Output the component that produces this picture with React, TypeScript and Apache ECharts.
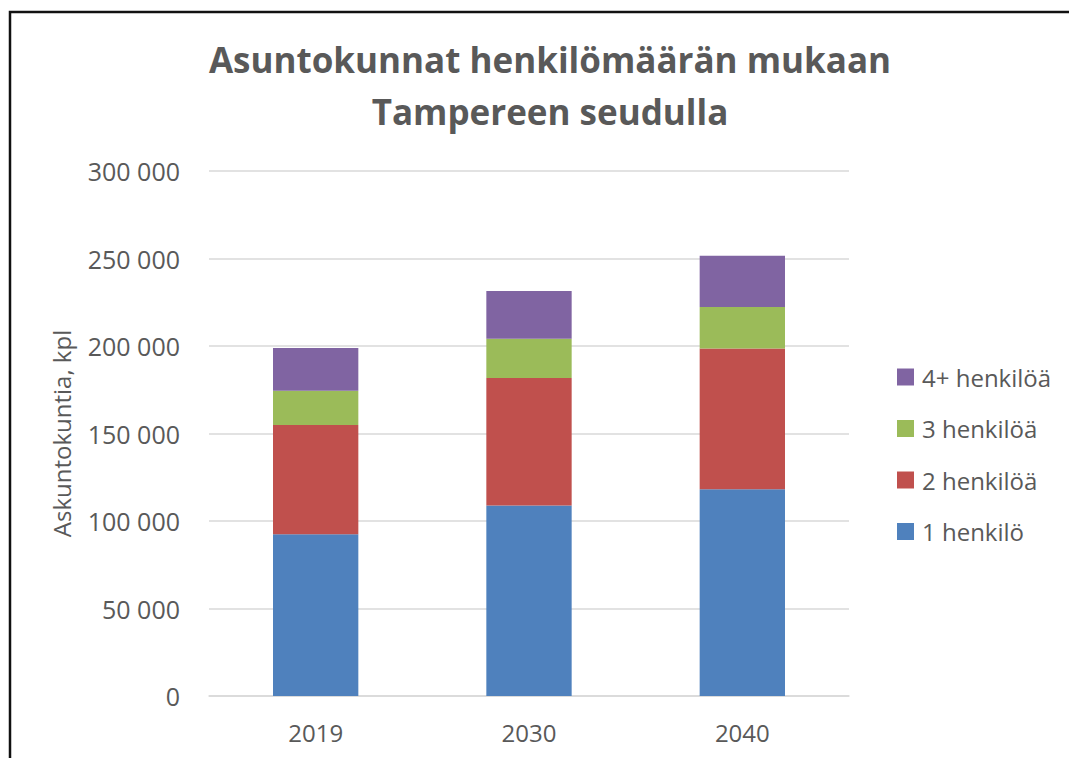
import React, { useEffect, useRef } from "react";
import * as echarts from "echarts";

const years = ["2019", "2030", "2040"];
const seriesNames = ["1 henkilö", "2 henkilöä", "3 henkilöä", "4+ henkilöä"];
const oneP = [92400, 108900, 118100];
const twoP = [62500, 72800, 80500];
const threeP = [19600, 22400, 23700];
const fourPlus = [24300, 27400, 29300];
const colors = ["#4F81BD", "#C0504D", "#9BBB59", "#8064A2"];
const titleText = "Asuntokunnat henkilömäärän mukaan\nTampereen seudulla";
const yAxisName = "Askuntokuntia, kpl";

const FONT = "'Open Sans', 'Noto Sans', sans-serif";
const TXT = "#595959";

export default function App() {
  const ref = useRef<HTMLDivElement>(null);
  useEffect(() => {
    if (!ref.current) return;
    const chart = echarts.init(ref.current, null, { renderer: "svg" });
    const values = [oneP, twoP, threeP, fourPlus];
    chart.setOption({
      animation: false,
      backgroundColor: "#ffffff",
      textStyle: { fontFamily: FONT },
      title: {
        text: titleText,
        left: 545,
        top: 28,
        textAlign: "center",
        textStyle: {
          fontFamily: FONT,
          fontSize: 35,
          fontWeight: "bold",
          color: TXT,
          lineHeight: 52,
        },
      },
      legend: {
        orient: "vertical",
        left: 892,
        top: 357,
        itemWidth: 17,
        itemHeight: 17,
        itemGap: 21.5,
        icon: "rect",
        data: [...seriesNames].reverse(),
        textStyle: {
          fontFamily: FONT,
          fontSize: 24,
          color: TXT,
          lineHeight: 30,
          padding: [0, 0, 0, 3],
        },
      },
      grid: { left: 209, right: 220, top: 171, bottom: 62, containLabel: false },
      xAxis: {
        type: "category",
        data: years,
        axisLine: { show: true, lineStyle: { color: "#D9D9D9", width: 1.5 } },
        axisTick: { show: false },
        axisLabel: { color: TXT, fontSize: 24, fontFamily: FONT, margin: 24 },
      },
      yAxis: {
        type: "value",
        min: 0,
        max: 300000,
        interval: 50000,
        name: yAxisName,
        nameLocation: "middle",
        nameGap: 136,
        nameTextStyle: { color: TXT, fontSize: 24, fontFamily: FONT },
        axisLine: { show: false },
        axisTick: { show: false },
        axisLabel: {
          color: TXT,
          fontSize: 25,
          fontFamily: FONT,
          margin: 29,
          formatter: (v: number) =>
            String(Math.round(v)).replace(/\B(?=(\d{3})+(?!\d))/g, " "),
        },
        splitLine: { lineStyle: { color: "#D9D9D9", width: 1.5 } },
      },
      series: seriesNames.map((name, i) => ({
        name,
        type: "bar",
        stack: "total",
        barWidth: "40%",
        data: values[i],
        itemStyle: { color: colors[i] },
      })),
      graphic: [
        {
          type: "rect",
          shape: { x: 10, y: 12, width: 1200, height: 900 },
          style: { fill: "none", stroke: "#111111", lineWidth: 2.5 },
          silent: true,
          z: 100,
        },
      ],
    });
    return () => chart.dispose();
  }, []);
  return (
    <div
      ref={ref}
      style={{ position: "absolute", left: 0, top: 0, width: 1069, height: 758 }}
    />
  );
}
